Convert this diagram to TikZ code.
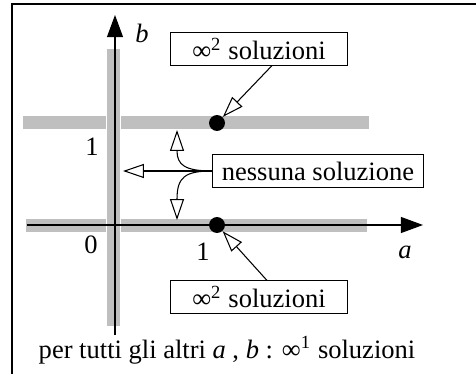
\documentclass[tikz,border=0pt]{standalone}
\usepackage{fontspec}
\setmainfont{Liberation Serif}
\usetikzlibrary{arrows.meta}

\begin{document}
\begin{tikzpicture}[x=0.377pt, y=-0.377pt, >={Triangle[length=8.3pt, width=6pt]},
	band/.style={line width=4.9pt, black!25},
	dot/.style={circle, fill, inner sep=0pt, minimum size=6pt},
	msgbox/.style={draw, minimum width=66.4pt, minimum height=12.1pt, inner sep=1pt},
	hint/.style={-{Triangle[open, length=7.9pt, width=5.3pt]}}]
	\useasboundingbox (0,0) rectangle (476,374);
	\draw (12,374) -- (12,4) -- (476,4);
	% solution sets
	\draw[band] (113.5,49) -- (113.5,326);
	\draw[band] (23,122.5) -- (106,122.5);
	\draw[band] (121,122.5) -- (369,122.5);
	\draw[band] (26,225.5) -- (106,225.5);
	\draw[band] (121,225.5) -- (367,225.5);
	% axes
	\draw[->] (27,225) -- (423,225);
	\draw[->] (115,335) -- (115,15);
	\node (blab) at (142,33) {\textit{b}};
	\node (alab) at (405,252) {\textit{a}};
	\node (bone) at (92,147) {1};
	\node (zero) at (91,245) {0};
	\node (aone) at (203,252) {1};
	\node[dot] (dottop) at (217,123) {};
	\node[dot] (dotbot) at (217,225) {};
	% labels with arrows
	\node[msgbox] (soltop) at (259,49) {∞\textsuperscript{2} soluzioni};
	\node[msgbox] (solbot) at (259,297) {∞\textsuperscript{2} soluzioni};
	\node[msgbox, minimum width=79.2pt] (none) at (318,171) {nessuna soluzione};
	\draw[hint] ([xshift=4.9pt]soltop.south) -- (dottop);
	\draw[hint] ([xshift=3pt]solbot.north) -- (dotbot);
	\coordinate (noneup) at (177,130);
	\coordinate (noneleft) at (123,171);
	\coordinate (nonedown) at (177,220);
	\draw[hint] (none.west) -- (noneleft);
	\draw[hint] (none.west) .. controls (185,171) and (177,165) .. (noneup);
	\draw[hint] (none.west) .. controls (185,171) and (177,177) .. (nonedown);
	\node (rest) at (227,350) {per tutti gli altri \textit{a} , \textit{b} : ∞\textsuperscript{1} soluzioni};
\end{tikzpicture}
\end{document}
